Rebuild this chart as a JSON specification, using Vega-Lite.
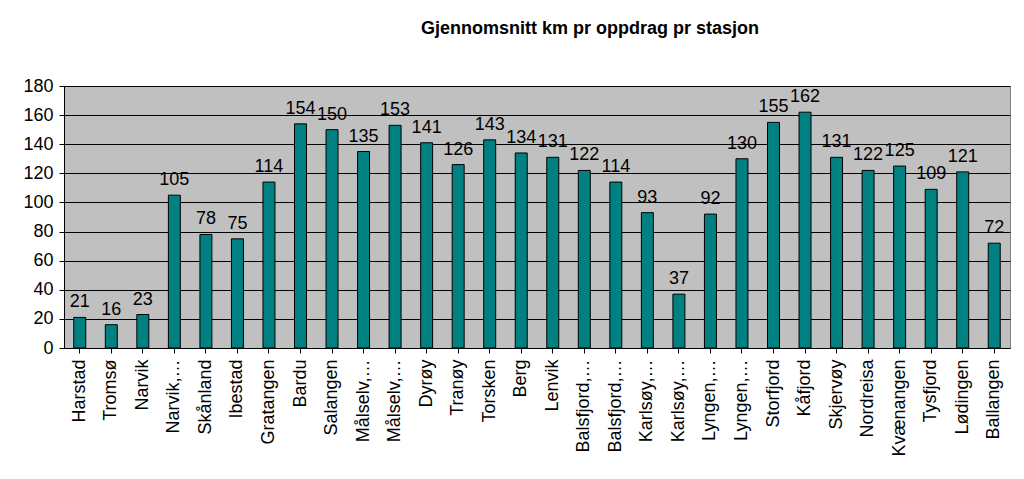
{
  "$schema": "https://vega.github.io/schema/vega-lite/v6.json",
  "width": 946,
  "height": 262,
  "autosize": "none",
  "padding": {"left": 64, "top": 86, "right": 14, "bottom": 131},
  "background": "white",
  "title": {
    "text": "Gjennomsnitt km pr oppdrag pr stasjon",
    "font": "Liberation Sans",
    "fontSize": 18,
    "fontWeight": "bold",
    "color": "black",
    "offset": 39,
    "dx": 53
  },
  "config": {
    "view": {"fill": "#C0C0C0", "stroke": "#808080", "strokeWidth": 1},
    "axis": {"labelFont": "Liberation Sans", "labelColor": "black", "domainColor": "black", "tickColor": "black", "gridColor": "black", "gridOpacity": 1}
  },
  "data": {
    "values": [
      {"stasjon": "Harstad", "km": 21},
      {"stasjon": "Tromsø", "km": 16},
      {"stasjon": "Narvik", "km": 23},
      {"stasjon": "Narvik,…", "km": 105},
      {"stasjon": "Skånland", "km": 78},
      {"stasjon": "Ibestad", "km": 75},
      {"stasjon": "Gratangen", "km": 114},
      {"stasjon": "Bardu", "km": 154},
      {"stasjon": "Salangen", "km": 150},
      {"stasjon": "Målselv,…", "km": 135},
      {"stasjon": "Målselv,…\u200b", "km": 153},
      {"stasjon": "Dyrøy", "km": 141},
      {"stasjon": "Tranøy", "km": 126},
      {"stasjon": "Torsken", "km": 143},
      {"stasjon": "Berg", "km": 134},
      {"stasjon": "Lenvik", "km": 131},
      {"stasjon": "Balsfjord,…", "km": 122},
      {"stasjon": "Balsfjord,…\u200b", "km": 114},
      {"stasjon": "Karlsøy,…", "km": 93},
      {"stasjon": "Karlsøy,…\u200b", "km": 37},
      {"stasjon": "Lyngen,…", "km": 92},
      {"stasjon": "Lyngen,…\u200b", "km": 130},
      {"stasjon": "Storfjord", "km": 155},
      {"stasjon": "Kåfjord", "km": 162},
      {"stasjon": "Skjervøy", "km": 131},
      {"stasjon": "Nordreisa", "km": 122},
      {"stasjon": "Kvænangen", "km": 125},
      {"stasjon": "Tysfjord", "km": 109},
      {"stasjon": "Lødingen", "km": 121},
      {"stasjon": "Ballangen", "km": 72}
    ]
  },
  "encoding": {
    "x": {
      "field": "stasjon",
      "type": "nominal",
      "sort": null,
      "title": null,
      "scale": {"paddingInner": 0.62, "paddingOuter": 0.31},
      "axis": {"labelAngle": -90, "labelFontSize": 18, "labelPadding": 6, "tickSize": 5, "labelLimit": 200}
    },
    "y": {
      "field": "km",
      "type": "quantitative",
      "title": null,
      "scale": {"domain": [0, 180], "nice": false},
      "axis": {"values": [0, 20, 40, 60, 80, 100, 120, 140, 160, 180], "labelFontSize": 18, "tickSize": 5, "labelPadding": 6, "grid": true}
    }
  },
  "layer": [
    {
      "mark": {"type": "bar", "color": "#008080", "stroke": "black", "strokeWidth": 1}
    },
    {
      "mark": {"type": "text", "baseline": "bottom", "dy": -6, "font": "Liberation Sans", "fontSize": 18, "color": "black"},
      "encoding": {"text": {"field": "km", "type": "quantitative"}}
    }
  ]
}
